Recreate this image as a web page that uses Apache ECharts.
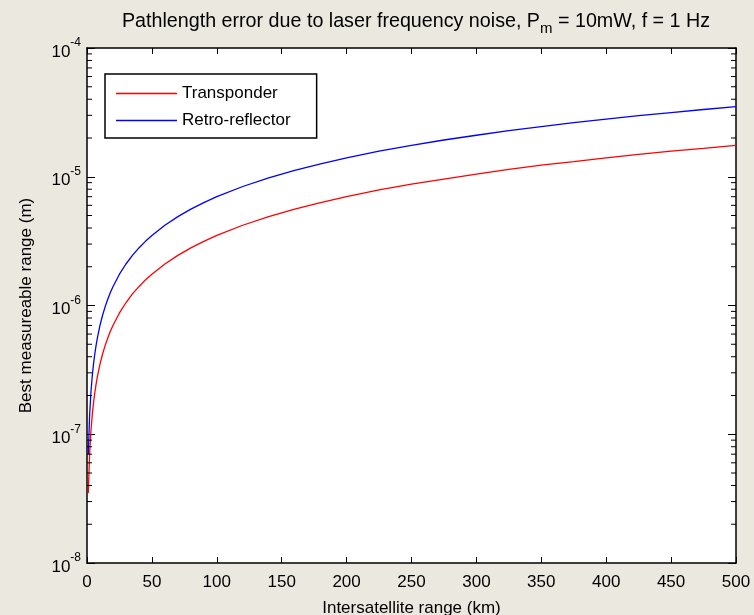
<!DOCTYPE html>
<html>
<head>
<meta charset="utf-8">
<script src="https://cdn.jsdelivr.net/npm/echarts@6/dist/echarts.min.js"></script>
<style>
html,body{margin:0;padding:0;background:#ebe8df;}
#chart{width:754px;height:615px;}
</style>
</head>
<body>
<div id="chart"></div>
<script>
// Intersatellite range (km)
const rangeKm = [1,2,3,4,5,6,7,8,10,12,14,16,18,20,25,30,35,40,45,50,60,70,80,90,100,120,140,160,180,200,225,250,275,300,325,350,375,400,425,450,475,500];
// Best measureable range (m) - Transponder
const transponder = [3.5e-8,7.0e-8,1.05e-7,1.4e-7,1.75e-7,2.1e-7,2.45e-7,2.8e-7,3.5e-7,4.2e-7,4.9e-7,5.6e-7,6.3e-7,7.0e-7,8.75e-7,1.05e-6,1.23e-6,1.4e-6,1.58e-6,1.75e-6,2.1e-6,2.45e-6,2.8e-6,3.15e-6,3.5e-6,4.2e-6,4.9e-6,5.6e-6,6.3e-6,7.0e-6,7.9e-6,8.75e-6,9.6e-6,1.05e-5,1.14e-5,1.23e-5,1.31e-5,1.4e-5,1.49e-5,1.58e-5,1.66e-5,1.75e-5];
// Best measureable range (m) - Retro-reflector
const retroReflector = [7.0e-8,1.4e-7,2.1e-7,2.8e-7,3.5e-7,4.2e-7,4.9e-7,5.6e-7,7.0e-7,8.4e-7,9.8e-7,1.12e-6,1.26e-6,1.4e-6,1.75e-6,2.1e-6,2.45e-6,2.8e-6,3.15e-6,3.5e-6,4.2e-6,4.9e-6,5.6e-6,6.3e-6,7.0e-6,8.4e-6,9.8e-6,1.12e-5,1.26e-5,1.4e-5,1.58e-5,1.75e-5,1.93e-5,2.1e-5,2.28e-5,2.45e-5,2.63e-5,2.8e-5,2.98e-5,3.15e-5,3.33e-5,3.5e-5];
const seriesNames = ['Transponder','Retro-reflector'];
const xTicks = [0,50,100,150,200,250,300,350,400,450,500];
const yDecades = [1e-8,1e-7,1e-6,1e-5,1e-4];
const minorMultipliers = [2,3,4,5,6,7,8,9];

const minorTickValues = [];
for (let i = 0; i < yDecades.length - 1; i++) {
  for (const m of minorMultipliers) minorTickValues.push([0, m * yDecades[i]]);
}

const FONT = 'Liberation Sans';
const chart = echarts.init(document.getElementById('chart'), null, {renderer:'canvas'});

const axisLineStyle = {color:'#000', width:1.5};

const option = {
  backgroundColor:'#ebe8df',
  animation:false,
  title:{
    text:'{t|Pathlength error due to laser frequency noise, P}{sub|m}{t| = 10mW, f = 1 Hz}',
    left:411, top:3, textAlign:'center',
    textStyle:{
      fontWeight:'normal',
      rich:{
        t:{fontFamily:FONT, fontSize:19.7, fontWeight:'normal', color:'#000'},
        sub:{fontFamily:FONT, fontSize:15, fontWeight:'normal', color:'#000', padding:[13,0,0,0]}
      }
    }
  },
  legend:{
    data:seriesNames,
    orient:'vertical',
    left:105, top:74,
    backgroundColor:'#fff',
    borderColor:'#000', borderWidth:1.5,
    padding:[10,26,8,11],
    icon:'rect',
    itemWidth:61, itemHeight:1.5, itemGap:8,
    textStyle:{fontFamily:FONT, fontSize:17, color:'#000', lineHeight:19}
  },
  grid:{left:87, top:48, right:18, bottom:52, show:true, backgroundColor:'#fff', borderWidth:0, outerBoundsMode:'none', containLabel:false},
  xAxis:[{
    type:'value', min:0, max:500, interval:50,
    name:'Intersatellite range (km)', nameLocation:'middle', nameGap:37,
    nameTextStyle:{fontFamily:FONT, fontSize:17, color:'#000'},
    axisLine:{show:true, onZero:false, lineStyle:axisLineStyle},
    axisTick:{show:true, inside:true, length:6, lineStyle:{color:'#000', width:1}},
    axisLabel:{fontFamily:FONT, fontSize:17, color:'#000', margin:11,
      formatter:v => xTicks.includes(v) ? String(v) : ''},
    splitLine:{show:false}
  },{
    type:'value', position:'top', min:0, max:500, interval:50,
    axisLine:{show:true, onZero:false, lineStyle:axisLineStyle},
    axisTick:{show:true, inside:true, length:6, lineStyle:{color:'#000', width:1}},
    axisLabel:{show:false}, splitLine:{show:false}
  }],
  yAxis:[{
    type:'log', logBase:10, min:1e-8, max:1e-4,
    name:'Best measureable range (m)', nameLocation:'middle', nameGap:52,
    nameTextStyle:{fontFamily:FONT, fontSize:17, color:'#000'},
    axisLine:{show:true, onZero:false, lineStyle:axisLineStyle},
    axisTick:{show:true, inside:true, length:8, lineStyle:{color:'#000', width:1}},
    axisLabel:{
      margin:6, color:'#000',
      formatter:v => '{b|10}{s|' + Math.round(Math.log10(v)) + '}',
      rich:{
        b:{fontFamily:FONT, fontSize:17, color:'#000', padding:[8,0,0,0]},
        s:{fontFamily:FONT, fontSize:12, color:'#000', padding:[0,0,10,0]}
      }
    },
    splitLine:{show:false}
  },{
    type:'log', logBase:10, min:1e-8, max:1e-4, position:'right',
    axisLine:{show:true, onZero:false, lineStyle:axisLineStyle},
    axisTick:{show:true, inside:true, length:8, lineStyle:{color:'#000', width:1}},
    axisLabel:{show:false}, splitLine:{show:false}
  }],
  series:[
    {
      name:seriesNames[0], type:'line', xAxisIndex:0, yAxisIndex:0,
      data:rangeKm.map((x,i)=>[x, transponder[i]]),
      symbol:'none', showSymbol:false,
      lineStyle:{color:'#ff0000', width:1.3}, itemStyle:{color:'#ff0000'}, z:3
    },
    {
      name:seriesNames[1], type:'line', xAxisIndex:0, yAxisIndex:0,
      data:rangeKm.map((x,i)=>[x, retroReflector[i]]),
      symbol:'none', showSymbol:false,
      lineStyle:{color:'#0000ff', width:1.3}, itemStyle:{color:'#0000ff'}, z:3
    },
    {
      name:'minorTicks', type:'custom', xAxisIndex:0, yAxisIndex:0, silent:true, clip:false, z:5,
      data:minorTickValues,
      renderItem:(params, api) => {
        const p = api.coord([0, api.value(1)]);
        const cs = params.coordSys;
        return {type:'group', children:[
          {type:'line', shape:{x1:cs.x, y1:p[1], x2:cs.x+5, y2:p[1]}, style:{stroke:'#000', lineWidth:1}},
          {type:'line', shape:{x1:cs.x+cs.width, y1:p[1], x2:cs.x+cs.width-5, y2:p[1]}, style:{stroke:'#000', lineWidth:1}}
        ]};
      }
    }
  ]
};
chart.setOption(option);
</script>
</body>
</html>
